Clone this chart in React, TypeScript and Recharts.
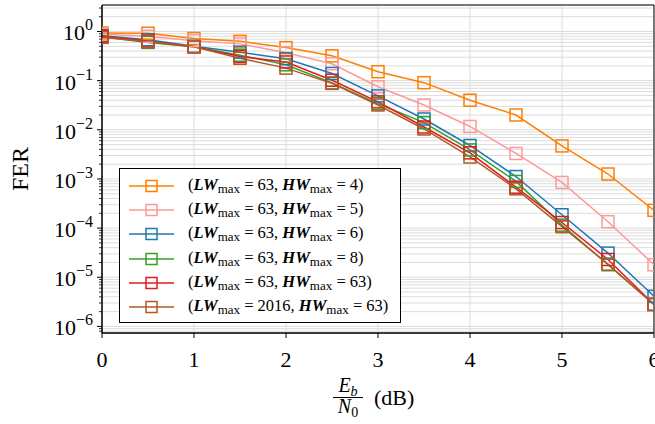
import { LineChart, Line, XAxis, YAxis, CartesianGrid, Legend, ReferenceArea, Label } from 'recharts';

// Eb/N0 (dB)
const EBN0 = [0, 0.5, 1, 1.5, 2, 2.5, 3, 3.5, 4, 4.5, 5, 5.5, 6];

// FER per decoder configuration
const FER_LW63_HW4 = [0.93, 0.92, 0.72, 0.63, 0.47, 0.32, 0.152, 0.091, 0.040, 0.020, 0.0047, 0.00126, 0.00023];
const FER_LW63_HW5 = [0.88, 0.8, 0.65, 0.56, 0.37, 0.22, 0.075, 0.032, 0.0117, 0.0033, 0.00085, 0.000135, 0.000018];
const FER_LW63_HW6 = [0.82, 0.68, 0.5, 0.38, 0.28, 0.14, 0.049, 0.0166, 0.0048, 0.00112, 0.000187, 0.000031, 0.0000041];
const FER_LW63_HW8 = [0.78, 0.6, 0.49, 0.33, 0.21, 0.09, 0.034, 0.014, 0.0039, 0.00089, 0.000115, 0.000018, 0.0000028];
const FER_LW63_HW63 = [0.8, 0.64, 0.49, 0.31, 0.24, 0.102, 0.037, 0.0114, 0.0034, 0.00068, 0.00013, 0.000023, 0.0000028];
const FER_LW2016_HW63 = [0.76, 0.62, 0.49, 0.285, 0.18, 0.088, 0.032, 0.0104, 0.0028, 0.00063, 0.000107, 0.0000185, 0.0000028];

const X_TICKS = [0, 1, 2, 3, 4, 5, 6];
const Y_MAJOR = [1e-6, 1e-5, 1e-4, 1e-3, 1e-2, 1e-1, 1];
const Y_MINOR_MULT = [2, 3, 4, 5, 6, 7, 8, 9];
const Y_DOMAIN = [7.35e-7, 3.46];

const SERIES = [
  { key: 'a', lw: 63, hw: 4, color: '#ff7f00', values: FER_LW63_HW4 },
  { key: 'b', lw: 63, hw: 5, color: '#fb9a99', values: FER_LW63_HW5 },
  { key: 'c', lw: 63, hw: 6, color: '#1f78b4', values: FER_LW63_HW6 },
  { key: 'd', lw: 63, hw: 8, color: '#33a02c', values: FER_LW63_HW8 },
  { key: 'e', lw: 63, hw: 63, color: '#e31a1c', values: FER_LW63_HW63 },
  { key: 'f', lw: 2016, hw: 63, color: '#b15928', values: FER_LW2016_HW63 },
];

const data = EBN0.map((x, i) => {
  const row: Record<string, number> = { x };
  SERIES.forEach((s) => { row[s.key] = s.values[i]; });
  return row;
});

const yTicks: number[] = [];
[1e-7, ...Y_MAJOR].forEach((d) => {
  if (d >= Y_DOMAIN[0] && d <= Y_DOMAIN[1]) yTicks.push(d);
  Y_MINOR_MULT.forEach((m) => {
    const v = +(m * d).toPrecision(3);
    if (v >= Y_DOMAIN[0] && v <= Y_DOMAIN[1]) yTicks.push(v);
  });
});
yTicks.sort((a, b) => a - b);

const FONT = '"Liberation Serif", "Times New Roman", serif';

const YTick = (props: any) => {
  const { x, y, payload } = props;
  const v = payload.value;
  const major = Y_MAJOR.some((m) => Math.abs(m - v) / m < 1e-6);
  if (!major) {
    return <line x1={x - 3} x2={x} y1={y} y2={y} stroke="#000" strokeWidth={0.8} />;
  }
  const e = Math.round(Math.log10(v));
  const exp = e < 0 ? '\u2212' + Math.abs(e) : String(e);
  return (
    <g>
      <line x1={x - 5} x2={x} y1={y} y2={y} stroke="#000" strokeWidth={1} />
      <text x={x - 9} y={y + 9} textAnchor="end" fontFamily={FONT} fontSize={22} fill="#000">
        10<tspan dy={-10} fontSize={16}>{exp}</tspan>
      </text>
    </g>
  );
};

const Square = (color: string) => (props: any) => {
  const { cx, cy, index } = props;
  if (cx == null || cy == null) return <g key={index} />;
  return <rect key={index} x={cx - 6} y={cy - 6} width={12} height={12} fill="none" stroke={color} strokeWidth={1.5} />;
};

const XLabel = (props: any) => {
  const vb = props.viewBox || { x: 102, y: 333, width: 552 };
  const cx = vb.x + vb.width / 2;
  const fx = cx - 30;
  return (
    <g fontFamily={FONT} fill="#000">
      <text x={fx} y={392} textAnchor="middle" fontSize={20} fontStyle="italic">
        E<tspan fontSize={14} dy={4}>b</tspan>
      </text>
      <line x1={fx - 15} x2={fx + 15} y1={397.5} y2={397.5} stroke="#000" strokeWidth={1} />
      <text x={fx} y={413} textAnchor="middle" fontSize={20}>
        <tspan fontStyle="italic">N</tspan><tspan fontSize={14} dy={4}>0</tspan>
      </text>
      <text x={cx - 4} y={405} fontSize={22}>(dB)</text>
    </g>
  );
};

const YLabel = (props: any) => {
  const vb = props.viewBox || { x: 0, y: 5, height: 328 };
  const x = 28;
  const y = vb.y + vb.height / 2;
  return (
    <text x={x} y={y} transform={`rotate(-90 ${x} ${y})`} textAnchor="middle" fontFamily={FONT} fontSize={24} fill="#000">
      FER
    </text>
  );
};

const LegendBox = () => (
  <div
    style={{
      width: 282,
      height: 155,
      boxSizing: 'border-box',
      border: '1px solid #000',
      background: '#fff',
      paddingTop: 5,
      fontFamily: FONT,
      fontSize: 16.5,
      color: '#000',
    }}
  >
    {SERIES.map((s) => (
      <div key={s.key} style={{ height: 24.2, display: 'flex', alignItems: 'center' }}>
        <svg width={58} height={16} style={{ marginLeft: 8, marginRight: 2, flex: 'none' }}>
          <line x1={1} x2={46} y1={8} y2={8} stroke={s.color} strokeWidth={1.5} />
          <rect x={18} y={2.5} width={11} height={11} fill="none" stroke={s.color} strokeWidth={1.5} />
        </svg>
        <span style={{ whiteSpace: 'nowrap' }}>
          (<b><i>LW</i></b><sub style={{ fontSize: 13, verticalAlign: -3 }}>max</sub> = {s.lw},{' '}
          <b><i>HW</i></b><sub style={{ fontSize: 13, verticalAlign: -3 }}>max</sub> = {s.hw})
        </span>
      </div>
    ))}
  </div>
);

export default function App() {
  return (
    <div style={{ width: 655, height: 424, background: '#fff' }}>
      <style>{'body{margin:0}'}</style>
      <LineChart width={655} height={424} data={data} margin={{ top: 5, right: 1, bottom: 0, left: 0 }}>
        <CartesianGrid stroke="#dcdcdc" strokeWidth={1} />
        <XAxis
          dataKey="x"
          type="number"
          domain={[0, 6]}
          ticks={X_TICKS}
          interval={0}
          height={91}
          tickSize={5}
          tickMargin={13}
          stroke="#000"
          tick={{ fill: '#000', fontSize: 22, fontFamily: FONT }}
          allowDataOverflow
        >
          <Label content={XLabel} />
        </XAxis>
        <YAxis
          scale="log"
          type="number"
          domain={Y_DOMAIN}
          ticks={yTicks}
          interval={0}
          width={102}
          tickSize={0}
          tickMargin={0}
          tickLine={false}
          stroke="#000"
          tick={YTick}
          allowDataOverflow
        >
          <Label content={YLabel} />
        </YAxis>
        <ReferenceArea x1={0} x2={6} y1={Y_DOMAIN[0]} y2={Y_DOMAIN[1]} fill="none" stroke="#000" strokeWidth={1} ifOverflow="visible" />
        {SERIES.map((s) => (
          <Line
            key={s.key}
            dataKey={s.key}
            stroke={s.color}
            strokeWidth={1.5}
            dot={Square(s.color)}
            activeDot={false}
            isAnimationActive={false}
            type="linear"
          />
        ))}
        <Legend
          layout="vertical"
          align="center"
          verticalAlign="middle"
          wrapperStyle={{ left: 119, top: 168, width: 282, height: 155 }}
          content={LegendBox}
        />
      </LineChart>
    </div>
  );
}
